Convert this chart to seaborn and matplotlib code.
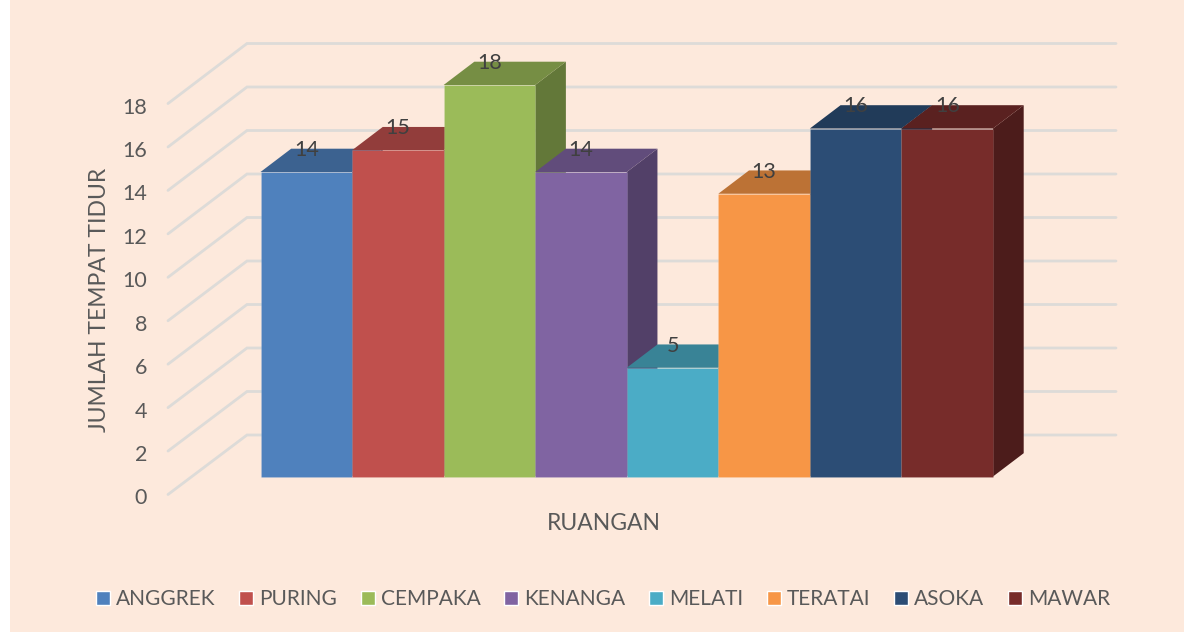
import matplotlib
matplotlib.use('Agg')
import matplotlib.pyplot as plt
import matplotlib.colors as mcolors
from matplotlib.patches import Polygon, Rectangle
import pandas as pd
import seaborn as sns

# Data
ruangan = ['ANGGREK', 'PURING', 'CEMPAKA', 'KENANGA', 'MELATI', 'TERATAI', 'ASOKA', 'MAWAR']
tempat_tidur = [14, 15, 18, 14, 5, 13, 16, 16]
warna = ['#4F81BD', '#C0504D', '#9BBB59', '#8064A2', '#4BACC6', '#F79646', '#2C4D75', '#772C2A']
y_ticks = [0, 2, 4, 6, 8, 10, 12, 14, 16, 18]

W, H = 1184, 632
BG = '#FDE9DC'
GRID = '#DDDBD8'
TEXT = '#595959'
FONT = 'Lato'


def to_fig(x, y):
    # pixel dari kiri atas -> koordinat figure
    return x / W, 1 - y / H


def gelap(warna_hex, f):
    r, g, b = mcolors.to_rgb(warna_hex)
    return (r * f, g * f, b * f)


sns.set_theme(style='white')
plt.rcParams['font.family'] = FONT

fig = plt.figure(figsize=(W / 100, H / 100), dpi=100, facecolor='white')
fig.patches.append(Rectangle(to_fig(9.5, 632), 1, 1, transform=fig.transFigure,
                             facecolor=BG, edgecolor='none', zorder=-10))

# Axes utama: sisi depan batang
bar_left, bar_right, y0, y18 = 260.5, 993, 476.5, 85
ax = fig.add_axes([bar_left / W, 1 - y0 / H, (bar_right - bar_left) / W, (y0 - y18) / H])
ax.patch.set_alpha(0)

df = pd.DataFrame({'ruangan': ruangan, 'jumlah': tempat_tidur})
sns.barplot(data=df, x='ruangan', y='jumlah', hue='ruangan', palette=warna, dodge=False,
            width=1, legend=True, ax=ax, saturation=1)
ax.set_xlim(-0.5, 7.5)
ax.set_ylim(0, 18)
ax.axis('off')

px_x = (bar_right - bar_left) / 8  # pixel per kategori
px_y = (y0 - y18) / 18  # pixel per unit
DX = 30.7 / px_x
DY = 23.3 / px_y

# Garis grid (dinding samping dan belakang)
wall_front_x = (168 - bar_left) / px_x - 0.5
wall_back_x = (247 - bar_left) / px_x - 0.5
wall_end_x = (1116 - bar_left) / px_x - 0.5
front_off = (494.5 - y0) / px_y
back_off = (y0 - 435) / px_y
for t in y_ticks:
    ax.plot([wall_front_x, wall_back_x, wall_end_x],
            [t * 21.72 / px_y - front_off, t + back_off, t + back_off],
            color=GRID, lw=2, zorder=0.5, clip_on=False, solid_joinstyle='miter')

# Sisi atas dan samping tiap batang, kiri ke kanan supaya saling menutup
for i, (bar, v) in enumerate(zip(ax.containers, tempat_tidur)):
    rect = bar[0]
    x0 = rect.get_x()
    x1 = x0 + rect.get_width()
    z = 2 + i
    c = warna[i]
    top = Polygon([(x0, v), (x0 + DX, v + DY), (x1 + DX, v + DY), (x1, v)],
                  facecolor=gelap(c, 0.76), edgecolor='none', zorder=z, clip_on=False)
    side = Polygon([(x1, 0), (x1 + DX, DY), (x1 + DX, v + DY), (x1, v)],
                   facecolor=gelap(c, 0.64), edgecolor='none', zorder=z, clip_on=False)
    ax.add_patch(side)
    ax.add_patch(top)
    rect.set_zorder(z + 0.5)
    rect.set_edgecolor((1, 1, 1, 0.1))
    rect.set_linewidth(0.8)
    rect.set_clip_on(False)
    ax.text(i, v + DY - 0.05, str(v), ha='center', va='center', fontsize=15.5, color='#404040',
            zorder=30, clip_on=False)

# Legenda
handles, labels = ax.get_legend_handles_labels()
ax.legend(handles, labels, ncol=8, loc='center', bbox_to_anchor=to_fig(603, 599),
          bbox_transform=fig.transFigure, frameon=False, fontsize=15, labelcolor=TEXT,
          handlelength=0.67, handleheight=0.67, handletextpad=0.3, columnspacing=1.13,
          borderpad=0, borderaxespad=0)

# Axes untuk label sumbu y, mengikuti ujung depan dinding samping
ax_y = fig.add_axes([168 / W, 1 - 496.5 / H, 0.001, (496.5 - 105.5) / H])
ax_y.patch.set_alpha(0)
ax_y.set_ylim(0, 18)
ax_y.set_yticks(y_ticks)
ax_y.set_xticks([])
ax_y.tick_params(axis='y', length=0, pad=15, labelsize=15.5, labelcolor=TEXT)
sns.despine(ax=ax_y, left=True, bottom=True)

fig.text(*to_fig(99, 300), 'JUMLAH TEMPAT TIDUR', rotation=90, ha='center', va='center',
         fontsize=16.5, color=TEXT)
fig.text(*to_fig(604, 524), 'RUANGAN', ha='center', va='center', fontsize=16.5, color=TEXT)

fig.savefig('out.png', dpi=100, facecolor=fig.get_facecolor())
